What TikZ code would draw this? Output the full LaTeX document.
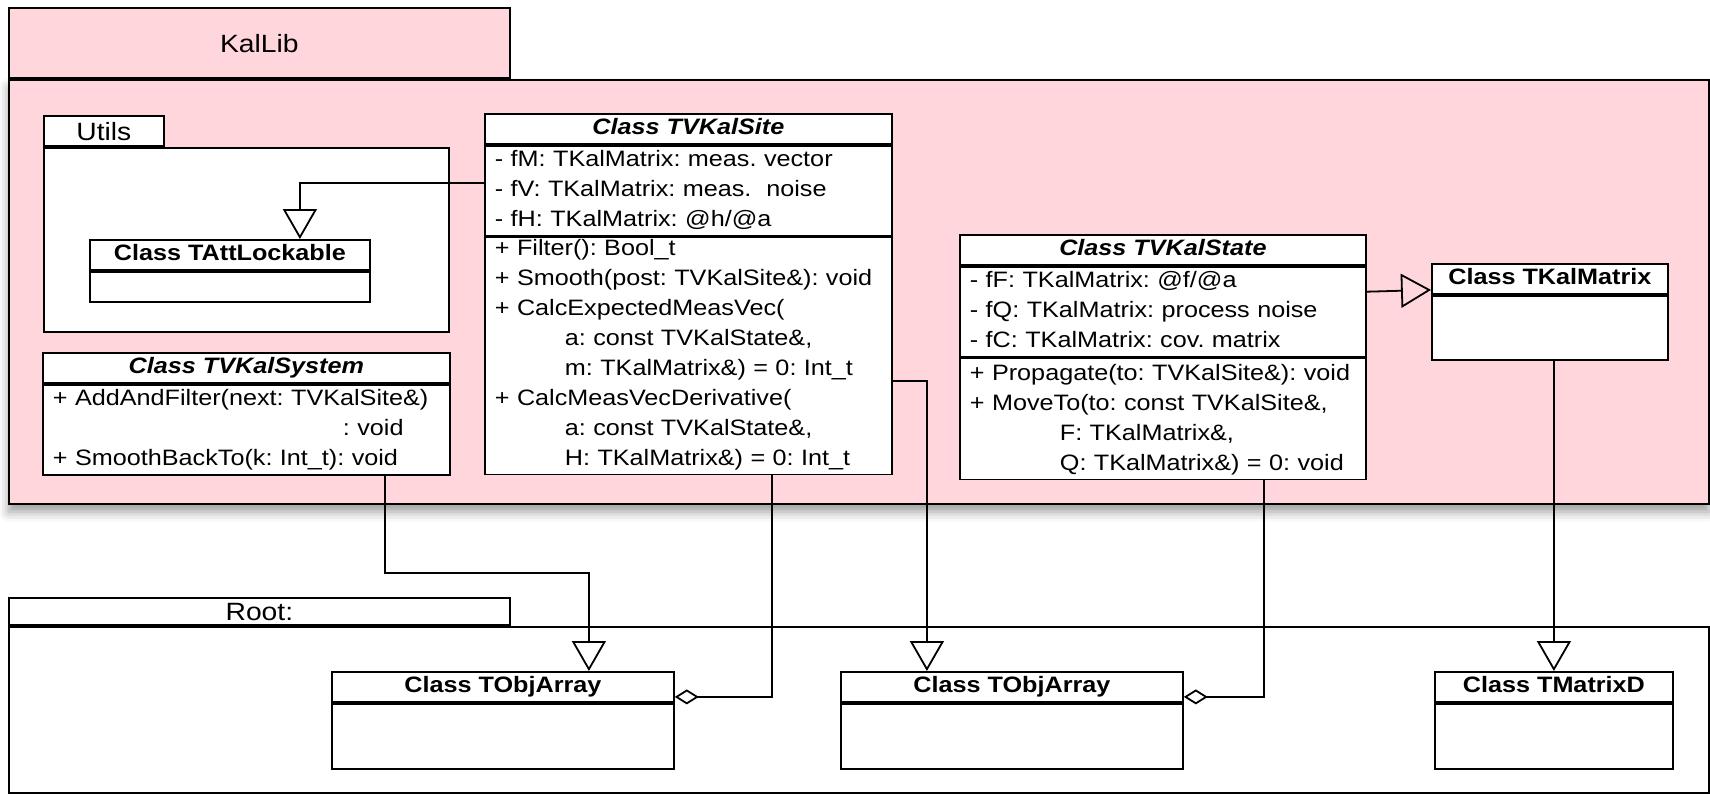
\documentclass[tikz,border=0pt]{standalone}
\usepackage{fontspec}
\setmainfont{Liberation Sans}[FakeStretch=1.13]
\usetikzlibrary{positioning,calc,arrows.meta,shadows.blur}

\definecolor{kalpink}{RGB}{255,214,219}
\newcommand{\clsfont}{\fontsize{22.3}{30}\selectfont}
\newcommand{\pkgfont}{\fontsize{25}{30}\selectfont}
\frenchspacing

\tikzset{
  pkgbox/.style={draw, line width=1.8pt, fill=white, inner sep=0pt, anchor=north west},
  clshead/.style={draw, line width=1.8pt, fill=white, inner sep=0pt, anchor=north west,
                  minimum height=30pt, font=\clsfont\bfseries,
                  execute at begin node=\strut},
  clsbody/.style={draw, line width=1.8pt, fill=white, align=left,
                  inner xsep=10pt, inner ysep=0pt, font=\clsfont,
                  execute at begin node=\rule{0pt}{#1}, execute at end node=\strut},
  clsbody/.default=21pt,
  gen/.style={line width=1.8pt, -{Triangle[open, length=30pt, width=34pt]}},
  agg/.style={line width=1.8pt, {Diamond[open, length=24pt, width=15pt]}-},
}

\begin{document}
\begin{tikzpicture}[x=1pt, y=-1pt]
\useasboundingbox (0,0) rectangle (1710,793);

% package KalLib
\node[pkgbox, fill=kalpink, minimum width=1700pt, minimum height=424pt,
      blur shadow={shadow xshift=0pt, shadow yshift=-8pt, shadow blur radius=10pt}]
  (kallib) at (8,79) {};
\node[pkgbox, fill=kalpink, minimum width=501pt, minimum height=70pt, anchor=south west]
  (kallib-tab) at (kallib.north west) {};
\node[font=\pkgfont] (kallib-name) at (kallib-tab.center) {KalLib};

% package Utils
\node[pkgbox, minimum width=405pt, minimum height=184pt] (utils) at (43,147) {};
\node[pkgbox, minimum width=120pt, minimum height=30pt, anchor=south west]
  (utils-tab) at (utils.north west) {};
\node[font=\pkgfont] (utils-name) at (utils-tab.center) {Utils};

\node[clshead, minimum width=280pt] (lock) at (89,239) {Class TAttLockable};
\node[clsbody, text width=260pt, below=0pt of lock] (lock-b) {};

% abstract classes
\node[clshead, minimum width=407pt] (site) at (484,113) {\textit{Class TVKalSite}};
\node[clsbody, text width=387pt, below=0pt of site] (site-a) {%
- fM: TKalMatrix: meas. vector\\
- fV: TKalMatrix: meas.\ \ noise\\
- fH: TKalMatrix: @h/@a};
\node[clsbody=18pt, text width=387pt, below=0pt of site-a] (site-m) {%
+ Filter(): Bool\_t\\
+ Smooth(post: TVKalSite\&): void\\
+ CalcExpectedMeasVec(\\
\hspace*{70pt}a: const TVKalState\&,\\
\hspace*{70pt}m: TKalMatrix\&) = 0: Int\_t\\
+ CalcMeasVecDerivative(\\
\hspace*{70pt}a: const TVKalState\&,\\
\hspace*{70pt}H: TKalMatrix\&) = 0: Int\_t};

\node[clshead, minimum width=407pt] (system) at (42,352) {\textit{Class TVKalSystem}};
\node[clsbody, text width=387pt, below=0pt of system] (system-m) {%
+ AddAndFilter(next: TVKalSite\&)\\
\hspace*{290pt}: void\\
+ SmoothBackTo(k: Int\_t): void};

\node[clshead, minimum width=406pt] (state) at (959,234) {\textit{Class TVKalState}};
\node[clsbody, text width=386pt, below=0pt of state] (state-a) {%
- fF: TKalMatrix: @f/@a\\
- fQ: TKalMatrix: process noise\\
- fC: TKalMatrix: cov. matrix};
\node[clsbody=22pt, text width=386pt, below=0pt of state-a] (state-m) {%
+ Propagate(to: TVKalSite\&): void\\
+ MoveTo(to: const TVKalSite\&,\\
\hspace*{90pt}F: TKalMatrix\&,\\
\hspace*{90pt}Q: TKalMatrix\&) = 0: void};

\node[clshead, minimum width=236pt] (kmat) at (1431,263) {Class TKalMatrix};
\node[clsbody, text width=216pt, minimum height=64pt, below=0pt of kmat] (kmat-b) {};

% package Root
\node[pkgbox, minimum width=1700pt, minimum height=166pt] (root) at (8,626) {};
\node[pkgbox, minimum width=501pt, minimum height=27pt, anchor=south west]
  (root-tab) at (root.north west) {};
\node[font=\pkgfont] (root-name) at (root-tab.center) {Root:};

\node[clshead, minimum width=342pt] (obj1) at (331,671) {Class TObjArray};
\node[clsbody, text width=322pt, minimum height=65pt, below=0pt of obj1] (obj1-b) {};
\node[clshead, minimum width=342pt] (obj2) at (840,671) {Class TObjArray};
\node[clsbody, text width=322pt, minimum height=65pt, below=0pt of obj2] (obj2-b) {};
\node[clshead, minimum width=238pt] (tmd) at (1434,671) {Class TMatrixD};
\node[clsbody, text width=218pt, minimum height=65pt, below=0pt of tmd] (tmd-b) {};

% relations
\draw[gen] ($(site-a.west)+(0,-8)$) -| ($(lock.north)+(70,0)$);
\draw[gen] ($(system-m.south)+(138.5,0)$) -- ++(0,97) -| ($(obj1.north)+(86,0)$);
\draw[agg] ($(obj1.east)+(0,10)$) -| ($(site-m.south)+(83.5,0)$);
\draw[gen] ($(site-m.east)+(0,25)$) -| ($(obj2.north)+(-85,0)$);
\draw[agg] ($(obj2.east)+(0,10)$) -| ($(state-m.south)+(101,0)$);
\draw[gen] ($(state-a.east)+(0,-20)$) -- ($(kmat.west)+(0,11)$);
\draw[gen] (kmat-b.south -| tmd.north) -- (tmd.north);

\end{tikzpicture}
\end{document}
